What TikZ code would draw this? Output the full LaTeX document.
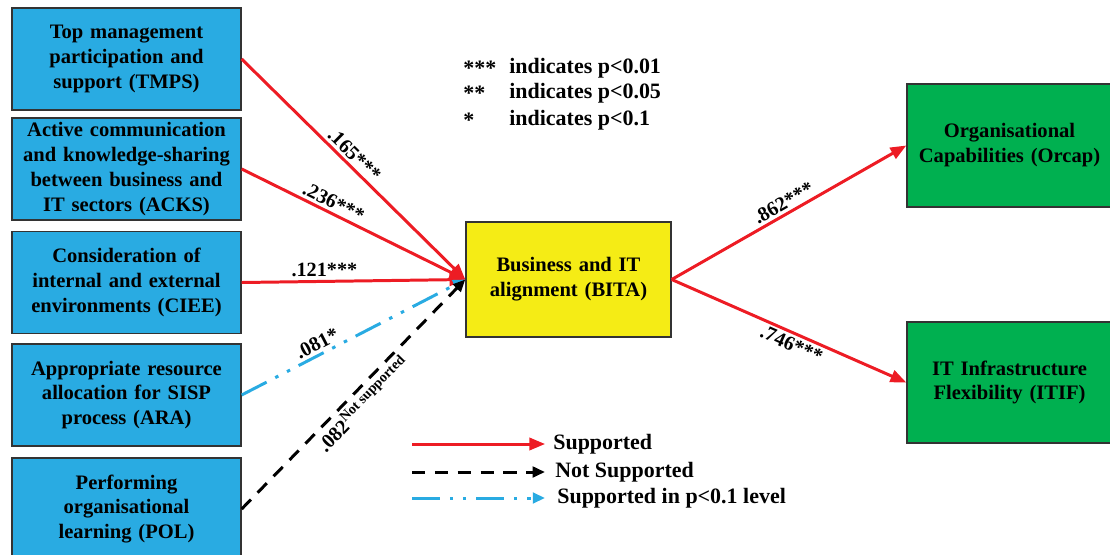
\documentclass[tikz,border=0pt]{standalone}
\usepackage{fontspec}
\setmainfont{Liberation Serif}
\usetikzlibrary{arrows.meta}

\definecolor{boxblue}{HTML}{29ABE2}
\definecolor{bitayellow}{HTML}{F5EC15}
\definecolor{capgreen}{HTML}{00B050}
\definecolor{supred}{HTML}{ED1C24}

\tikzset{
  factor/.style={draw=black!80, line width=0.8pt, fill=boxblue, align=center,
    font=\bfseries\fontsize{11.7}{14.2}\selectfont, inner sep=0pt,
    text width=4.45cm, minimum width=4.58cm, minimum height=2.04cm},
  outcome/.style={factor, fill=capgreen, text width=4cm, minimum width=4.1cm},
  coef/.style={font=\bfseries\fontsize{11.5}{13}\selectfont, inner sep=1.5pt},
  legtext/.style={anchor=west, inner sep=0pt, font=\bfseries\fontsize{12.5}{14}\selectfont},
  suparrow/.style={draw=supred, line width=1.7pt, -{Triangle[length=9pt,width=7pt]}},
  nosuparrow/.style={draw=black, line width=1.7pt, dash pattern=on 7.5pt off 5.5pt,
    -{Triangle[length=7pt,width=6pt]}},
  weakarrow/.style={draw=boxblue, line width=1.7pt,
    dash pattern=on 16pt off 5.5pt on 2pt off 5.5pt on 2pt off 5.5pt,
    -{Triangle[length=7pt,width=6pt]}}
}

\begin{document}
\begin{tikzpicture}[x=0.02cm, y=0.02cm]
\useasboundingbox (0,0) rectangle (1110,-555);

% antecedent factors
\node[factor] (tmps) at (126.5,-59) {Top management\\participation and\\support (TMPS)};
\node[factor] (acks) at (126.5,-169) {Active communication\\and knowledge-sharing\\between business and\\IT sectors (ACKS)};
\node[factor] (ciee) at (126.5,-282.5) {Consideration of\\internal and external\\environments (CIEE)};
\node[factor] (ara) at (126.5,-395) {Appropriate resource\\allocation for SISP\\process (ARA)};
\node[factor] (pol) at (126.5,-509) {Performing\\organisational\\learning (POL)};

% alignment and outcomes
\node[factor, fill=bitayellow, text width=3.9cm, minimum width=4.1cm, minimum height=2.3cm] (bita) at (568.5,-279.5) {Business and IT\\alignment (BITA)};
\node[outcome, minimum height=2.46cm] (orcap) at (1009.5,-145.5) {Organisational\\Capabilities (Orcap)};
\node[outcome, minimum height=2.42cm] (itif) at (1009.5,-382.5) {IT Infrastructure\\Flexibility (ITIF)};

% paths into BITA
\draw[suparrow] (tmps.east) -- node[pos=0.47, sloped, above, coef] {.165***} (bita.west);
\draw[suparrow] (acks.east) -- node[pos=0.39, sloped, above, coef] {.236***} (bita.west);
\draw[suparrow] (ciee.east) -- node[pos=0.37, above, coef] {.121***} (bita.west);
\draw[weakarrow] (ara.east) -- node[pos=0.36, sloped, above, coef] {.081*} (bita.west);
\draw[nosuparrow] (pol.east) -- node[pos=0.5, sloped, below, coef] {.082\textsuperscript{Not supported}} (bita.west);

% paths out of BITA
\draw[suparrow] (bita.east) -- node[pos=0.5, sloped, above, coef] {.862***} (orcap.west);
\draw[suparrow] (bita.east) -- node[pos=0.53, sloped, below, coef] {.746***} (itif.west);

% significance key
\node[legtext] (stars3) at (463,-68) {***};
\node[legtext] (sig3) at (509,-68) {indicates p<0.01};
\node[legtext] (stars2) at (463,-93) {**};
\node[legtext] (sig2) at (509,-93) {indicates p<0.05};
\node[legtext] (stars1) at (463,-120) {*};
\node[legtext] (sig1) at (509,-120) {indicates p<0.1};

% line key
\coordinate (keysup) at (412,-444);
\coordinate (keynosup) at (412,-472);
\coordinate (keyweak) at (412,-498);
\node[legtext] (labsup) at (553,-444) {Supported};
\node[legtext] (labnosup) at (555,-472) {Not Supported};
\node[legtext] (labweak) at (557,-498) {Supported in p<0.1 level};
\draw[suparrow] (keysup) -- ([xshift=-4.5pt]labsup.west);
\draw[nosuparrow] (keynosup) -- ([xshift=-5.7pt]labnosup.west);
\draw[weakarrow] (keyweak) -- ([xshift=-6.8pt]labweak.west);
\end{tikzpicture}
\end{document}
